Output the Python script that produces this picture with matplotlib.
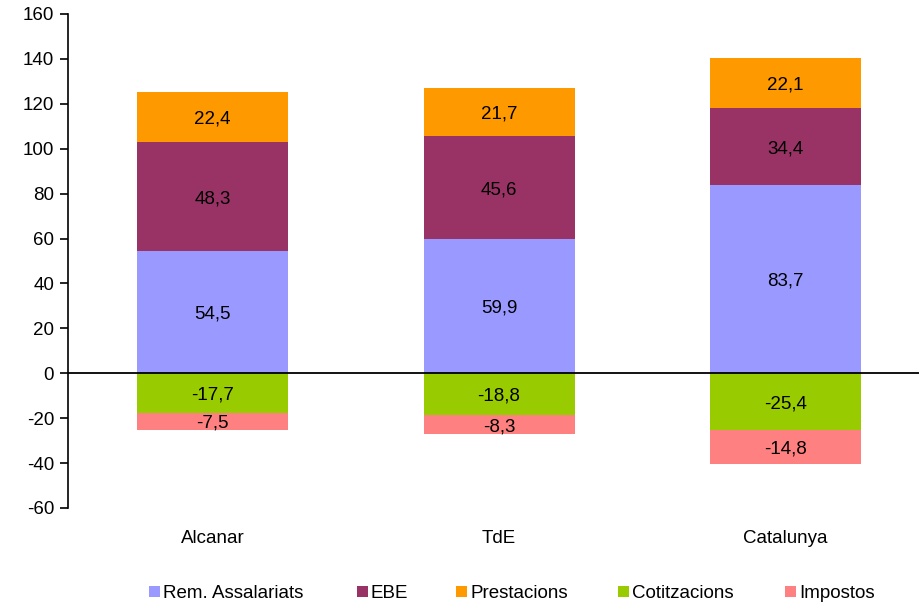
import matplotlib
matplotlib.use("Agg")
import matplotlib.pyplot as plt
from matplotlib.patches import Rectangle
import numpy as np

plt.rcParams['font.family'] = ['Liberation Sans', 'DejaVu Sans']
plt.rcParams['axes.unicode_minus'] = False

categories = ["Alcanar", "TdE", "Catalunya"]
rem = [54.5, 59.9, 83.7]
ebe = [48.3, 45.6, 34.4]
prest = [22.4, 21.7, 22.1]
cotitz = [-17.7, -18.8, -25.4]
impostos = [-7.5, -8.3, -14.8]
series_names = ["Rem. Assalariats", "EBE", "Prestacions", "Cotitzacions", "Impostos"]
colors = ["#9999FF", "#993366", "#FF9900", "#99CC00", "#FF8080"]

FS = 13.5
W, H = 920, 603
fig = plt.figure(figsize=(W/100, H/100), dpi=100)
ax = fig.add_axes([68/W, 1-508/H, 1-68/W, (508-14)/H])

x = np.arange(len(categories))
w = 0.527

def fmt(v):
    return f"{v:.1f}".replace(".", ",")

pos_series = [rem, ebe, prest]
neg_series = [cotitz, impostos]
bottom = np.zeros(3)
for name, vals, c in zip(series_names[:3], pos_series, colors[:3]):
    vals = np.array(vals)
    ax.bar(x, vals, w, bottom=bottom, color=c, zorder=2)
    for xi, bi, vi in zip(x, bottom, vals):
        ax.text(xi, bi + vi/2, fmt(vi), ha='center', va='center_baseline', fontsize=FS, zorder=3)
    bottom = bottom + vals
nb = np.zeros(3)
for name, vals, c in zip(series_names[3:], neg_series, colors[3:]):
    vals = np.array(vals)
    ax.bar(x, vals, w, bottom=nb, color=c, zorder=2)
    for xi, bi, vi in zip(x, nb, vals):
        ax.text(xi, bi + vi/2, fmt(vi), ha='center', va='center_baseline', fontsize=FS, zorder=3)
    nb = nb + vals

ax.axhline(0, color='black', lw=1.3, zorder=4)
ax.set_xlim(-0.504, 2.469)
ax.set_ylim(-60, 160)
ax.set_yticks(np.arange(-60, 161, 20))
ax.tick_params(axis='y', direction='out', length=6, width=1.2, labelsize=FS, pad=4)
ax.set_xticks([])
for s in ['top', 'right', 'bottom']:
    ax.spines[s].set_visible(False)
ax.spines['left'].set_linewidth(1.2)

for xi, cat in zip(x, categories):
    ax.text(xi, -72.5, cat, ha='center', va='center_baseline', fontsize=FS)

# legend drawn manually at the reference positions (pixels)
leg_sq_x = [149, 357, 456, 618, 785]
for px, name, c in zip(leg_sq_x, series_names, colors):
    fig.patches.append(Rectangle((px/W, 1-597/H), 11/W, 11/H, transform=fig.transFigure,
                                 facecolor=c, edgecolor='none'))
    fig.text((px+14)/W, 1-592/H, name, ha='left', va='center_baseline', fontsize=FS)

fig.savefig("out.png", dpi=100)
